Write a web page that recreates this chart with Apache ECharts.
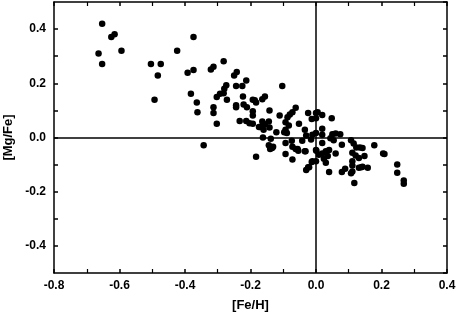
<!DOCTYPE html>
<html>
<head>
<meta charset="utf-8">
<script src="https://cdn.jsdelivr.net/npm/echarts@6/dist/echarts.min.js"></script>
<style>
html,body{margin:0;padding:0;background:#fff;}
#main{width:458px;height:322px;}
</style>
</head>
<body>
<div id="main"></div>
<script>
// [Fe/H] values
var feH = [
  -0.653,-0.625,-0.615,-0.664,-0.594,-0.653,-0.504,-0.474,-0.483,-0.493,-0.424,-0.374,
  -0.392,-0.374,-0.321,-0.313,-0.282,-0.250,-0.242,-0.213,-0.225,-0.244,-0.274,-0.280,
  -0.382,-0.364,-0.362,-0.313,-0.313,-0.303,-0.303,-0.293,-0.282,-0.272,-0.244,-0.244,
  -0.223,-0.221,-0.211,-0.193,-0.183,-0.193,-0.193,-0.233,-0.213,-0.203,-0.193,-0.174,
  -0.343,-0.183,
  -0.103,-0.187,-0.164,-0.156,-0.142,-0.164,-0.156,-0.144,-0.170,-0.160,-0.142,-0.121,
  -0.111,-0.093,-0.087,-0.080,-0.072,-0.062,-0.093,-0.097,-0.083,-0.089,-0.052,-0.024,
  -0.013,-0.034,-0.030,-0.011,-0.015,-0.162,-0.138,-0.144,-0.140,-0.131,-0.093,-0.074,
  -0.072,-0.062,-0.054,-0.042,-0.032,0.000,-0.093,-0.072,-0.011,0.000,-0.021,-0.030,
  0.000,-0.134,-0.056,-0.034,-0.024,
  0.005,0.019,0.000,0.048,0.019,0.000,0.019,0.050,0.060,0.074,0.044,0.054,0.079,0.019,
  0.107,0.115,0.123,0.134,0.142,0.178,0.205,0.001,0.019,0.030,0.040,0.009,0.024,0.036,
  0.030,-0.013,0.060,0.111,0.121,0.131,0.111,0.111,0.131,0.142,0.158,0.089,0.079,0.111,
  0.107,0.040,0.117,0.148,0.138,0.209,0.248,0.248,0.268,0.268
];
// [Mg/Fe] values, same order
var mgFe = [
  0.420,0.371,0.381,0.310,0.320,0.271,0.271,0.271,0.229,0.139,0.320,0.371,
  0.239,0.249,0.251,0.261,0.281,0.229,0.242,0.210,0.190,0.190,0.193,0.180,
  0.161,0.129,0.093,0.112,0.090,0.051,0.149,0.161,0.163,0.139,0.119,0.112,
  0.151,0.122,0.112,0.139,0.129,0.097,0.081,0.061,0.061,0.053,0.051,0.039,
  -0.029,-0.071,
  0.190,0.137,0.141,0.151,0.100,0.059,0.049,0.059,0.039,0.029,0.037,0.019,
  0.081,0.056,0.075,0.085,0.093,0.110,0.029,0.019,0.044,0.017,0.051,0.090,
  0.068,0.029,0.007,0.010,-0.007,0.000,-0.005,-0.029,-0.042,-0.034,-0.020,-0.012,
  -0.034,-0.042,-0.049,-0.012,-0.051,-0.046,-0.061,-0.081,-0.088,-0.088,-0.110,-0.120,
  0.090,-0.039,-0.042,-0.051,-0.110,
  0.093,0.083,0.071,0.071,0.032,0.017,0.010,0.012,0.015,0.012,-0.003,-0.010,-0.027,-0.020,
  -0.010,-0.022,-0.037,-0.037,-0.039,-0.029,-0.059,-0.049,-0.059,-0.051,-0.046,-0.064,-0.078,-0.068,
  -0.093,-0.090,-0.059,-0.056,-0.066,-0.076,-0.088,-0.103,-0.112,-0.108,-0.112,-0.115,-0.127,-0.125,
  -0.132,-0.127,-0.168,-0.068,-0.110,-0.061,-0.100,-0.130,-0.159,-0.171
];
var xTicks = [-0.8, 0.4, 0.2];  // min, max, step
var yTicks = [-0.5, 0.5, 0.1];  // ticks every 0.1, labels every 0.2
var yLabels = ['-0.4','-0.2','0.0','0.2','0.4'];

var pts = [];
for (var i = 0; i < feH.length; i++) pts.push([feH[i], mgFe[i]]);

var font = 'Liberation Sans, Arial, sans-serif';
var lineStyle = {color:'#000', width:1.5};
var myChart = echarts.init(document.getElementById('main'));

function xAx(pos, show){
  return {
    type:'value', position:pos, min:xTicks[0], max:xTicks[1], interval:xTicks[2],
    name: show ? '[Fe/H]' : '', nameLocation:'middle', nameGap:26,
    nameTextStyle:{fontFamily:font, fontWeight:'bold', fontSize:13, color:'#000'},
    axisLine:{show:true, onZero:false, lineStyle:lineStyle},
    axisTick:{show:true, inside:true, length:4, lineStyle:lineStyle},
    minorTick:{show:true, splitNumber:2, length:4, lineStyle:{color:'#000', width:1.2}},
    axisLabel:{show:show, fontFamily:font, fontWeight:'bold', fontSize:12, color:'#000', margin:7,
      formatter:function(v){return v.toFixed(1);}},
    splitLine:{show:false}
  };
}
function yAx(pos, show){
  return {
    type:'value', position:pos, min:yTicks[0], max:yTicks[1], interval:yTicks[2],
    name: show ? '[Mg/Fe]' : '', nameLocation:'middle', nameGap:37, nameRotate:90,
    nameTextStyle:{fontFamily:font, fontWeight:'bold', fontSize:13, color:'#000'},
    axisLine:{show:true, onZero:false, lineStyle:lineStyle},
    axisTick:{show:true, inside:true, length:4, lineStyle:lineStyle},
    minorTick:{show:false},
    axisLabel:{show:show, fontFamily:font, fontWeight:'bold', fontSize:12, color:'#000', margin:8,
      showMinLabel:false, showMaxLabel:false,
      formatter:function(v){
        var s = v.toFixed(1);
        return yLabels.indexOf(s) >= 0 ? s : '';
      }},
    splitLine:{show:false}
  };
}

var option = {
  animation:false,
  grid:{left:54, right:11, top:2, bottom:49, outerBoundsMode:'none', containLabel:false},
  xAxis:[xAx('bottom', true), xAx('top', false)],
  yAxis:[yAx('left', true), yAx('right', false)],
  series:[{
    type:'scatter',
    data:pts,
    symbolSize:6.5,
    itemStyle:{color:'#000', opacity:1},
    markLine:{
      silent:true, symbol:'none', label:{show:false},
      lineStyle:{color:'#000', width:1.5, type:'solid'},
      data:[{xAxis:0},{yAxis:0}]
    }
  }]
};
myChart.setOption(option);
</script>
</body>
</html>
